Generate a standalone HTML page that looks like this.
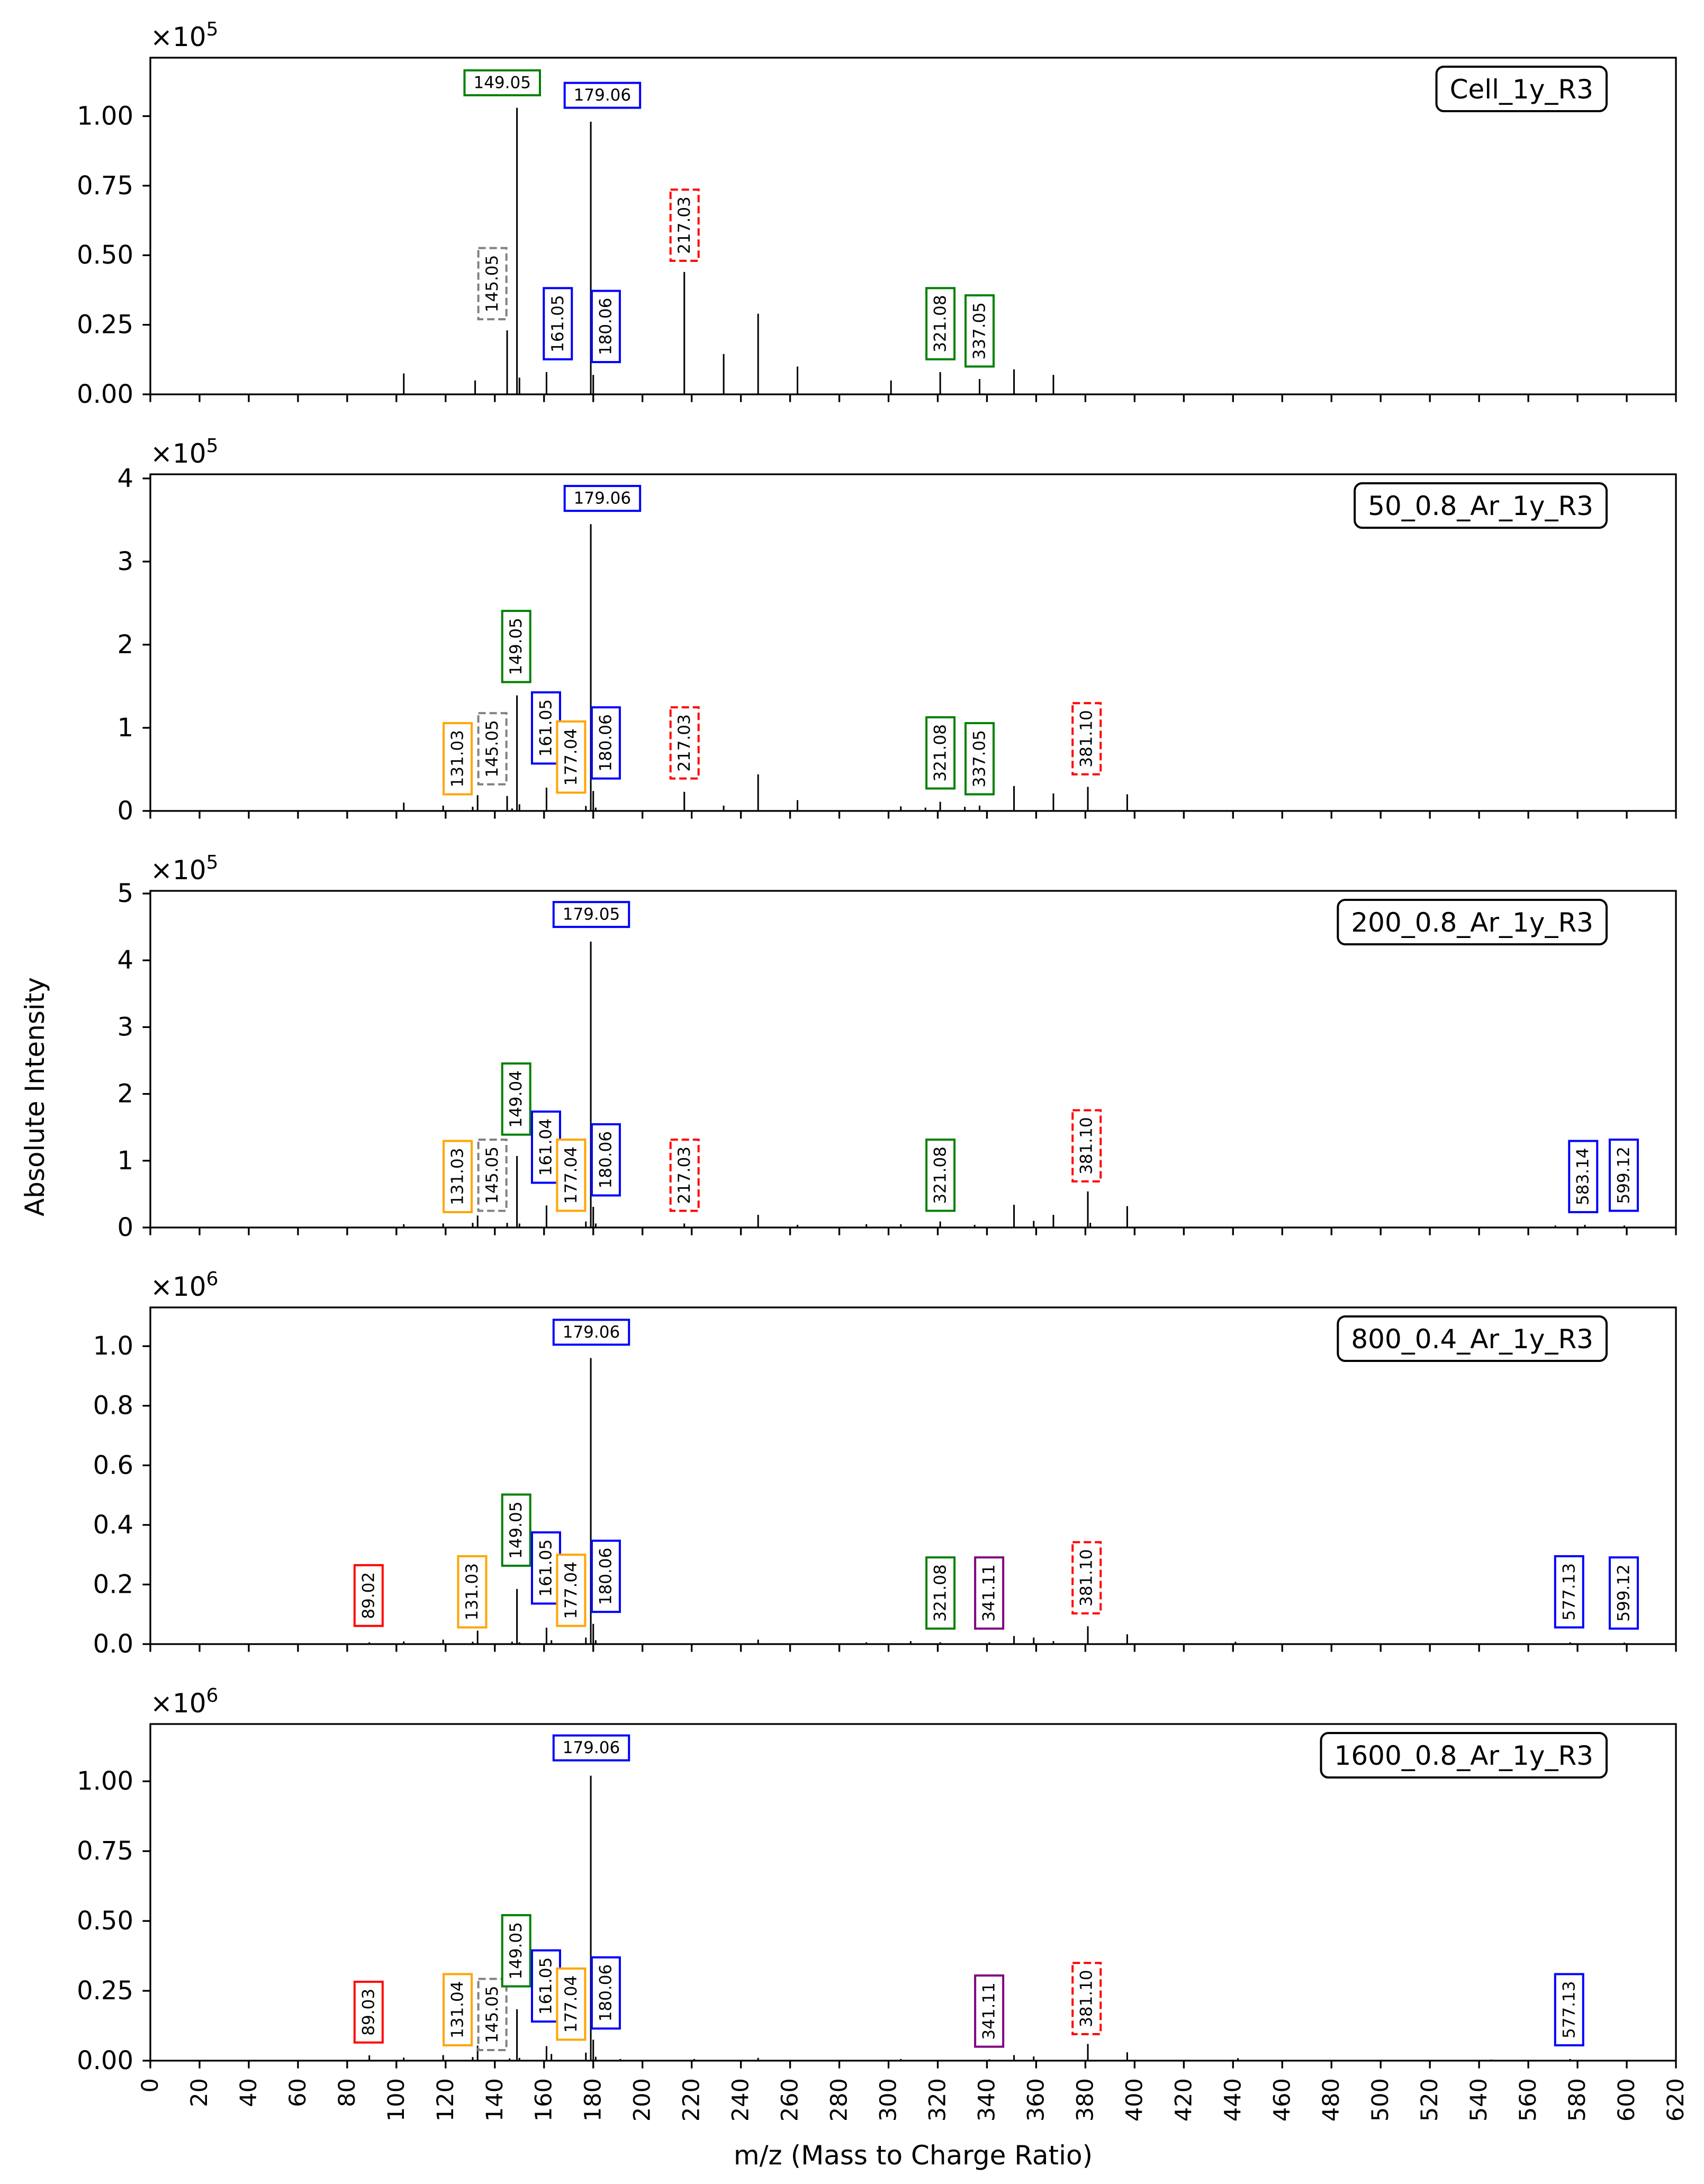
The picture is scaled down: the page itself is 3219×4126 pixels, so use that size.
<!DOCTYPE html>
<html><head><meta charset="utf-8"><style>
html,body{margin:0;padding:0;background:#fff;}
svg{display:block;font-family:"DejaVu Sans","Liberation Sans",sans-serif;}
</style></head><body>
<svg id="fig" width="3219" height="4126" viewBox="0 0 3219 4126" xmlns="http://www.w3.org/2000/svg">
<rect x="0" y="0" width="3219" height="4126" fill="#fff"/>
<text x="66" y="2072" font-size="50" text-anchor="middle" dominant-baseline="central" transform="rotate(-90 66 2072)">Absolute Intensity</text>
<text x="1725" y="4072" font-size="50" text-anchor="middle" dominant-baseline="central">m/z (Mass to Charge Ratio)</text>
</svg>
<script>
// ---- data ----
const panelTitles = ["Cell_1y_R3","50_0.8_Ar_1y_R3","200_0.8_Ar_1y_R3","800_0.4_Ar_1y_R3","1600_0.8_Ar_1y_R3"];
const panelExp = ["5","5","5","6","6"];
const panelYMax = [1.21, 4.05, 5.04, 1.13, 1.205];
const panelYTicks = [[0,0.25,0.5,0.75,1.0],[0,1,2,3,4],[0,1,2,3,4,5],[0,0.2,0.4,0.6,0.8,1.0],[0,0.25,0.5,0.75,1.0]];
const panelYDec = [2,0,0,1,2];
const xTicks = [0,20,40,60,80,100,120,140,160,180,200,220,240,260,280,300,320,340,360,380,400,420,440,460,480,500,520,540,560,580,600,620];

const mz1 = [103,132,145,149,150,161,179,180,217,233,247,263,301,321,337,351,367];
const int1 = [0.075,0.05,0.23,1.03,0.06,0.08,0.98,0.07,0.44,0.145,0.29,0.10,0.05,0.08,0.055,0.09,0.07];
const mz2 = [103,119,131,133,145,147,149,150,161,177,179,180,181,217,233,247,263,305,315,321,331,337,351,367,381,397];
const int2 = [0.1,0.064,0.05,0.19,0.18,0.03,1.39,0.08,0.28,0.06,3.45,0.24,0.04,0.23,0.064,0.44,0.13,0.055,0.04,0.11,0.05,0.064,0.30,0.21,0.29,0.2];
const mz3 = [103,119,131,133,145,149,150,161,177,179,180,181,217,247,263,291,305,321,335,351,359,367,381,382,397,571,583,599];
const int3 = [0.05,0.06,0.07,0.18,0.07,1.07,0.06,0.33,0.09,4.28,0.31,0.06,0.06,0.19,0.04,0.05,0.05,0.09,0.04,0.34,0.10,0.19,0.54,0.07,0.32,0.03,0.04,0.03];
const mz4 = [89,103,119,131,133,147,149,150,161,163,177,179,180,181,247,291,309,321,341,351,359,367,381,397,441,577,599];
const int4 = [0.006,0.009,0.015,0.008,0.045,0.008,0.185,0.006,0.055,0.013,0.022,0.96,0.068,0.013,0.015,0.006,0.01,0.006,0.006,0.027,0.022,0.01,0.06,0.033,0.008,0.006,0.005];
const mz5 = [89,103,119,131,133,146,149,150,161,163,177,179,180,181,191,221,247,305,341,351,359,381,397,442,545,577];
const int5 = [0.019,0.011,0.02,0.013,0.054,0.008,0.184,0.01,0.052,0.024,0.029,1.02,0.075,0.014,0.006,0.006,0.01,0.006,0.005,0.02,0.015,0.06,0.03,0.009,0.004,0.006];
const panelMz = [mz1,mz2,mz3,mz4,mz5];
const panelInt = [int1,int2,int3,int4,int5];

const annText1 = ["149.05","179.06","145.05","161.05","180.06","217.03","321.08","337.05"];
const annMz1 = [143,183.7,139,165.6,185.1,217.1,321.1,337];
const annBot1 = [1.075,1.03,0.27,0.126,0.116,0.48,0.126,0.10];
const annSty1 = ["g","b","k","b","b","r","g","g"];
const annHor1 = [1,1,0,0,0,0,0,0];
const annText2 = ["179.06","149.05","131.03","145.05","161.05","177.04","180.06","217.03","321.08","337.05","381.10"];
const annMz2 = [183.7,148.7,124.9,139,160.8,171,185.1,217.1,321.1,337,380.5];
const annBot2 = [3.61,1.55,0.2,0.32,0.57,0.22,0.39,0.39,0.27,0.2,0.44];
const annSty2 = ["b","g","o","k","b","o","b","r","g","g","r"];
const annHor2 = [1,0,0,0,0,0,0,0,0,0,0];
const annText3 = ["179.05","149.04","131.03","145.05","161.04","177.04","180.06","217.03","321.08","381.10","583.14","599.12"];
const annMz3 = [179.2,148.7,124.9,139,160.8,171,185.1,217.1,321.1,380.5,582.3,598.8];
const annBot3 = [4.5,1.39,0.23,0.25,0.67,0.25,0.48,0.25,0.25,0.69,0.23,0.25];
const annSty3 = ["b","g","o","k","b","o","b","r","g","r","b","b"];
const annHor3 = [1,0,0,0,0,0,0,0,0,0,0,0];
const annText4 = ["179.06","89.02","131.03","149.05","161.05","177.04","180.06","321.08","341.11","381.10","577.13","599.12"];
const annMz4 = [179.2,88.7,130.8,148.7,160.8,171,185.1,321.1,340.9,380.5,576.6,598.8];
const annBot4 = [1.005,0.061,0.056,0.263,0.136,0.061,0.108,0.052,0.052,0.103,0.056,0.052];
const annSty4 = ["b","rs","o","g","b","o","b","g","p","r","b","b"];
const annHor4 = [1,0,0,0,0,0,0,0,0,0,0,0];
const annText5 = ["179.06","89.03","131.04","145.05","149.05","161.05","177.04","180.06","341.11","381.10","577.13"];
const annMz5 = [179.2,88.7,124.9,139,148.7,160.8,171,185.1,340.9,380.5,576.6];
const annBot5 = [1.075,0.065,0.055,0.038,0.266,0.14,0.075,0.115,0.05,0.095,0.055];
const annSty5 = ["b","rs","o","k","g","b","o","b","p","r","b"];
const annHor5 = [1,0,0,0,0,0,0,0,0,0,0];
const annTexts=[annText1,annText2,annText3,annText4,annText5];
const annMzs=[annMz1,annMz2,annMz3,annMz4,annMz5];
const annBots=[annBot1,annBot2,annBot3,annBot4,annBot5];
const annStys=[annSty1,annSty2,annSty3,annSty4,annSty5];
const annHors=[annHor1,annHor2,annHor3,annHor4,annHor5];

const NS="http://www.w3.org/2000/svg";
const svg=document.getElementById('fig');
const X0=284, X1=3166, XMIN=0, XMAX=620;
const PANEL_TOP0=109, PANEL_H=636, PANEL_STEP=787;
const styleMap={g:["#008000",""],b:["#0000ff",""],o:["#ffa500",""],k:["#808080","14,7"],r:["#ff0000","14,7"],rs:["#ff0000",""],p:["#800080",""]};
function xs(v){return X0+(v-XMIN)/(XMAX-XMIN)*(X1-X0);}
function mk(tag,attrs,parent){const e=document.createElementNS(NS,tag);for(const k in attrs)e.setAttribute(k,attrs[k]);(parent||svg).appendChild(e);return e;}

for(let p=0;p<5;p++){
  const top=PANEL_TOP0+p*PANEL_STEP, bot=top+PANEL_H, ymax=panelYMax[p];
  const ys=v=>bot-v/ymax*PANEL_H;
  const g=mk('g',{});
  
  
  const mzs=panelMz[p], ints=panelInt[p];
  for(let i=0;i<mzs.length;i++){
    const l=mk('line',{x1:xs(mzs[i]),x2:xs(mzs[i]),y1:bot,y2:ys(ints[i]),stroke:'#000','stroke-width':3},g);
    
    
  }
  const fr=mk('rect',{x:X0,y:top,width:X1-X0,height:PANEL_H,fill:'none',stroke:'#000','stroke-width':3.3},g);
  
  
  panelYTicks[p].forEach(t=>{
    const y=ys(t);
    mk('line',{x1:X0-14.6,x2:X0,y1:y,y2:y,stroke:'#000','stroke-width':3.3},g);
    const tx=mk('text',{x:X0-32,y:y,'font-size':48,'text-anchor':'end','dominant-baseline':'central'},g);
    tx.textContent=t.toFixed(panelYDec[p]);
    
    
  });
  xTicks.forEach(t=>{
    const x=xs(t);
    mk('line',{x1:x,x2:x,y1:bot,y2:bot+14.6,stroke:'#000','stroke-width':3.3},g);
    if(p===4){
      const tx=mk('text',{x:x,y:bot+33,'font-size':43,'text-anchor':'end','dominant-baseline':'central',transform:`rotate(-90 ${x} ${bot+33})`},g);
      tx.textContent=String(t);
      
      
    }
  });
  const ex=mk('text',{x:X0,y:top-22,'font-size':50},g);
  
  
  ex.textContent='×10';
  const sup=mk('tspan',{dy:-20,'font-size':36},ex);
  sup.textContent=panelExp[p];
  const tt=mk('text',{'font-size':50,'dominant-baseline':'central'},g);
  tt.textContent=panelTitles[p];
  
  
  const tw=tt.getComputedTextLength();
  const bw=tw+50, bx=3035-bw, by=top+17;
  const tb=mk('rect',{x:bx,y:by,width:bw,height:84,rx:14,ry:14,fill:'#fff',stroke:'#000','stroke-width':4},g);
  
  
  tt.setAttribute('x',bx+25); tt.setAttribute('y',by+43);
  g.appendChild(tt);
  const at=annTexts[p];
  for(let i=0;i<at.length;i++){
    const cx=xs(annMzs[p][i]), by2=ys(annBots[p][i]);
    const [col,dash]=styleMap[annStys[p][i]];
    const ag=mk('g',{},g);
    
    
    const r=mk('rect',{fill:'#fff',stroke:col,'stroke-width':4},ag);
    if(dash) r.setAttribute('stroke-dasharray',dash);
    const tx=mk('text',{'font-size':31,'text-anchor':'middle','dominant-baseline':'central'},ag);
    tx.textContent=at[i];
    const len=tx.getComputedTextLength();
    if(annHors[p][i]){
      const w=len+34,h=47;
      r.setAttribute('x',cx-w/2);r.setAttribute('y',by2-h);r.setAttribute('width',w);r.setAttribute('height',h);
      tx.setAttribute('x',cx);tx.setAttribute('y',by2-h/2);
    }else{
      const w=53,h=len+26;
      r.setAttribute('x',cx-w/2);r.setAttribute('y',by2-h);r.setAttribute('width',w);r.setAttribute('height',h);
      const cy=by2-h/2;
      tx.setAttribute('x',cx);tx.setAttribute('y',cy);
      tx.setAttribute('transform',`rotate(-90 ${cx} ${cy})`);
    }
  }
}
</script>
</body></html>
